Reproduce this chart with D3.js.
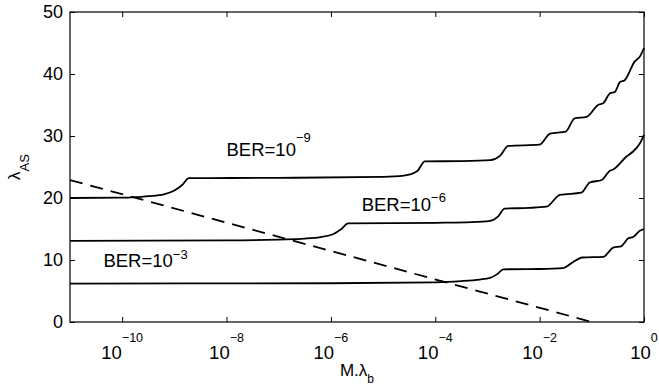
<!DOCTYPE html>
<html>
<head>
<meta charset="utf-8">
<script src="https://cdn.jsdelivr.net/npm/d3@7"></script>
<style>
  html, body { margin: 0; padding: 0; background: #fff; }
  #chart text { font-family: 'Liberation Sans', Arial, Helvetica, sans-serif; fill: #000; }
  .line { fill: none; stroke: #000; stroke-width: 1.8px; }
  .axis-box { fill: none; stroke: #000; stroke-width: 1.2px; }
  .tick-mark { stroke: #000; stroke-width: 1px; }
</style>
</head>
<body>
<div id="chart"></div>
<script>
// x values are log10(M.lambda_b), y values are lambda_AS
const xDomain = [-11, 0];
const yDomain = [0, 50];
const xTickExps = [-10, -8, -6, -4, -2, 0];
const yTicks = [0, 10, 20, 30, 40, 50];

const ber9 = [
  [-11, 20.0], [-10, 20.05], [-9.5, 20.3], [-9.2, 20.6], [-9.0, 21.2], [-8.85, 22.1],
  [-8.72, 23.2], [-7, 23.25], [-5, 23.4], [-4.6, 23.6], [-4.35, 24.3], [-4.2, 25.9],
  [-3.5, 25.95], [-2.95, 26.1], [-2.76, 26.8], [-2.6, 28.4], [-2.0, 28.6], [-1.8, 30.4],
  [-1.5, 30.7], [-1.33, 32.85], [-1.1, 33.1], [-0.88, 35.0], [-0.78, 35.3], [-0.65, 36.9],
  [-0.56, 37.1], [-0.46, 38.7], [-0.37, 39.0], [-0.18, 42.0], [-0.08, 42.8], [0, 44.2]
];

const ber6 = [
  [-11, 13.1], [-8, 13.15], [-7, 13.3], [-6.5, 13.45], [-6.2, 13.7], [-5.95, 14.2],
  [-5.8, 15.0], [-5.67, 15.9], [-4, 16.0], [-3.3, 16.1], [-2.95, 16.3], [-2.8, 17.0],
  [-2.67, 18.3], [-2.2, 18.4], [-1.87, 18.6], [-1.61, 20.5], [-1.2, 20.85], [-1.04, 22.5],
  [-0.81, 22.9], [-0.655, 24.4], [-0.59, 24.6], [-0.335, 26.7], [-0.21, 27.5],
  [-0.08, 28.8], [0, 30.2]
];

const ber3 = [
  [-11, 6.2], [-6, 6.25], [-4, 6.4], [-3.5, 6.6], [-3.15, 6.85], [-2.95, 7.1], [-2.8, 7.8],
  [-2.7, 8.5], [-2.0, 8.55], [-1.55, 8.7], [-1.39, 9.5], [-1.18, 10.4], [-0.78, 10.5],
  [-0.59, 12.0], [-0.43, 12.25], [-0.3, 13.5], [-0.21, 13.7], [-0.08, 14.7], [0, 15.0]
];

const dashedLine = [[-11, 22.9], [-1.0, 0]];

const labelTexts = ['BER=10', 'BER=10', 'BER=10'];
const labelExps = ['\u22129', '\u22126', '\u22123'];
// label anchors in data units: log10 x, baseline y
const labelAnchors = [[-8.0, 26.8], [-5.41, 17.95], [-10.36, 8.87]];
const labelRaise = [14, 9, 8];

const width = 659;
const height = 388;
const margin = { top: 12, right: 15, bottom: 66, left: 70 };
const innerW = width - margin.left - margin.right;
const innerH = height - margin.top - margin.bottom;

const svg = d3
  .select('#chart')
  .append('svg')
  .attr('width', width)
  .attr('height', height);

const g = svg
  .append('g')
  .attr('transform', `translate(${margin.left}, ${margin.top})`);

/* Scale */
const xScale = d3
  .scaleLog()
  .domain(xDomain.map(e => Math.pow(10, e)))
  .range([0, innerW]);

const yScale = d3
  .scaleLinear()
  .domain(yDomain)
  .range([innerH, 0]);

const px = d => xScale(Math.pow(10, d[0]));
const py = d => yScale(d[1]);

/* Lines */
const line = d3
  .line()
  .x(px)
  .y(py)
  .curve(d3.curveMonotoneX);

g.selectAll('.curve')
  .data([ber9, ber6, ber3])
  .enter()
  .append('path')
  .attr('class', 'line curve')
  .attr('d', d => line(d));

g.append('path')
  .attr('class', 'line')
  .attr('d', d3.line().x(px).y(py)(dashedLine))
  .style('stroke-dasharray', '13,8');

/* Axes box + inward ticks */
const tickLen = 5;
const xTickVals = xTickExps.map(e => Math.pow(10, e));

const axisBottom = d3.axisBottom(xScale).tickValues(xTickVals).tickSizeInner(-tickLen).tickSizeOuter(0).tickFormat('');
const axisTop = d3.axisTop(xScale).tickValues(xTickVals).tickSizeInner(-tickLen).tickSizeOuter(0).tickFormat('');
const axisLeft = d3.axisLeft(yScale).tickValues(yTicks).tickSizeInner(-tickLen).tickSizeOuter(0).tickFormat('');
const axisRight = d3.axisRight(yScale).tickValues(yTicks).tickSizeInner(-tickLen).tickSizeOuter(0).tickFormat('');

[
  [axisBottom, `translate(0, ${innerH})`],
  [axisTop, 'translate(0, 0)'],
  [axisLeft, 'translate(0, 0)'],
  [axisRight, `translate(${innerW}, 0)`]
].forEach(([ax, tr]) => {
  const a = g.append('g').attr('transform', tr).call(ax);
  a.select('.domain').remove();
  a.selectAll('line').attr('class', 'tick-mark');
});

g.append('rect')
  .attr('class', 'axis-box')
  .attr('x', 0)
  .attr('y', 0)
  .attr('width', innerW)
  .attr('height', innerH);

/* Tick labels */
g.selectAll('.ylab')
  .data(yTicks)
  .enter()
  .append('text')
  .attr('class', 'ylab')
  .attr('x', -7)
  .attr('y', d => yScale(d))
  .attr('dy', '0.35em')
  .attr('text-anchor', 'end')
  .style('font-size', '18px')
  .text(d => d);

const xlab = g
  .selectAll('.xlab')
  .data(xTickExps)
  .enter()
  .append('text')
  .attr('class', 'xlab')
  .attr('x', d => xScale(Math.pow(10, d)))
  .attr('y', innerH + 37)
  .attr('text-anchor', 'middle')
  .style('font-size', '18.5px');

xlab.append('tspan').text('10');
xlab
  .append('tspan')
  .attr('dy', -17)
  .style('font-size', '12.5px')
  .text(d => (d < 0 ? '\u2212' : '') + Math.abs(d));

/* BER labels */
labelAnchors.forEach((a, i) => {
  const t = g
    .append('text')
    .attr('x', px(a))
    .attr('y', py(a))
    .style('font-size', '18.5px');
  t.append('tspan').text(labelTexts[i]);
  t.append('tspan')
    .attr('dy', -labelRaise[i])
    .style('font-size', '13px')
    .text(labelExps[i]);
});

/* Axis titles */
const xTitle = svg
  .append('text')
  .attr('x', margin.left + innerW / 2)
  .attr('y', 376)
  .attr('text-anchor', 'middle')
  .style('font-size', '17px');
xTitle.append('tspan').text('M.\u03bb');
xTitle.append('tspan').attr('dy', 7).style('font-size', '12px').text('b');

const yTitle = svg
  .append('text')
  .attr('transform', `translate(20, ${margin.top + innerH / 2}) rotate(-90)`)
  .attr('text-anchor', 'middle')
  .style('font-size', '17px');
yTitle.append('tspan').text('\u03bb');
yTitle.append('tspan').attr('dy', 9).style('font-size', '13px').text('AS');
</script>
</body>
</html>
